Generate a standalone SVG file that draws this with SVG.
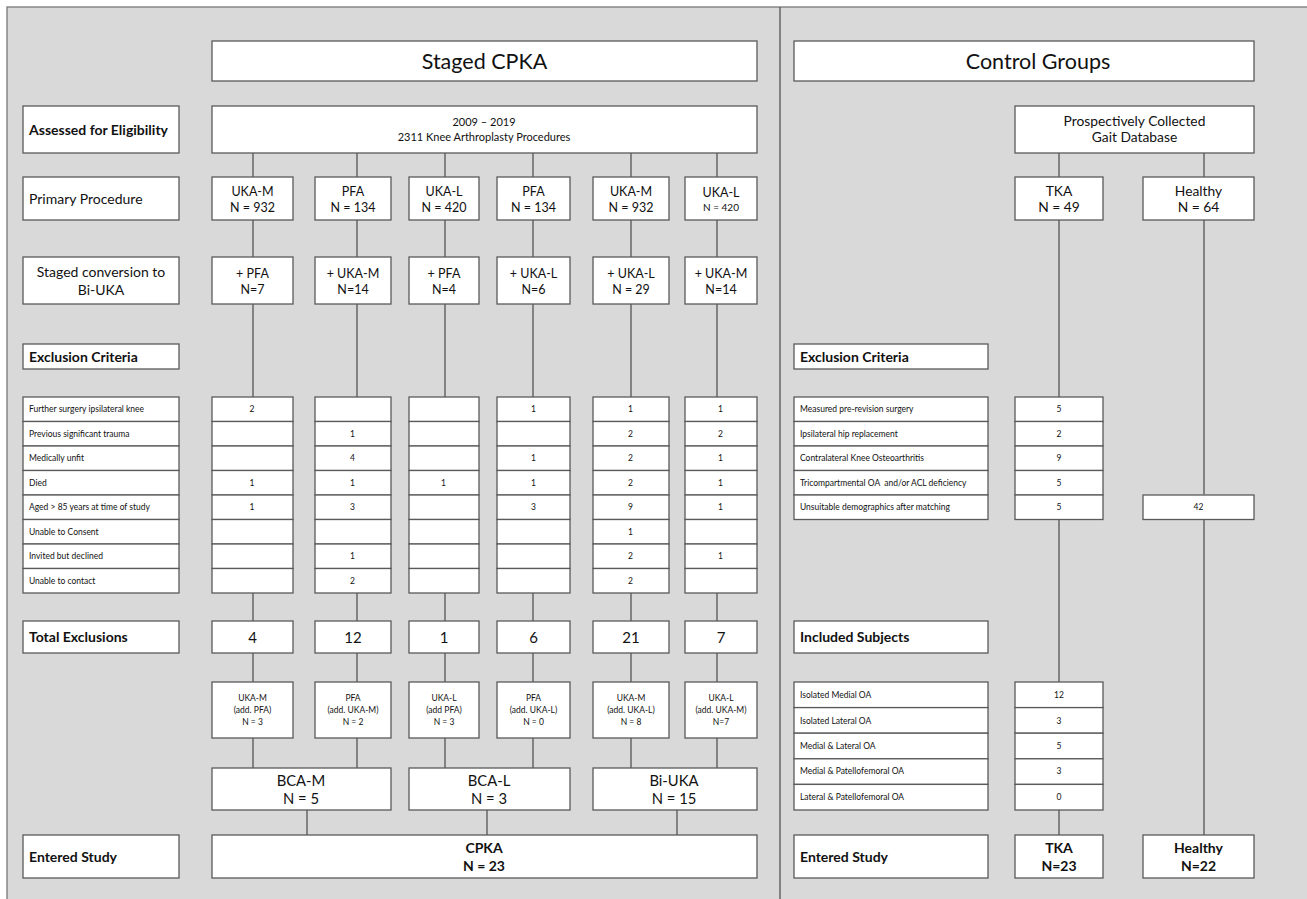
<svg xmlns="http://www.w3.org/2000/svg" width="1307" height="899" viewBox="0 0 1307 899">
<style>
.bx{fill:#fff;stroke:#5a5a5a;stroke-width:1.3}
.ln{stroke:#555;stroke-width:1.3;fill:none}
text{font-family:Lato,"Liberation Sans",sans-serif;fill:#111}
.c{text-anchor:middle}
.b{font-weight:bold}
.h1{font-size:21.5px}
.lb{font-size:14px}
.m{font-size:12.5px}
.g{font-size:13.8px}
.s{font-size:8.5px}
.sm{font-size:10px}
.el{font-size:11px}
.tot{font-size:15px}
.big{font-size:14.8px}
</style>
<rect x="0" y="0" width="1307" height="899" fill="#fff"/>
<rect x="7" y="7" width="1310" height="900" fill="#d9d9d9" stroke="#777" stroke-width="1.3"/>
<line x1="780" y1="7" x2="780" y2="899" stroke="#555" stroke-width="1.3"/>

<g id="connectors">
<path class="ln" d="M253 153V177M357 153V177M445 153V177M533 153V177M631 153V177M717 153V177"/>
<path class="ln" d="M253 220V257M357 220V257M445 220V257M533 220V257M631 220V257M717 220V257"/>
<path class="ln" d="M253 304V397M357 304V397M445 304V397M533 304V397M631 304V397M717 304V397"/>
<path class="ln" d="M253 593V621M357 593V621M445 593V621M533 593V621M631 593V621M717 593V621"/>
<path class="ln" d="M253 653V682M357 653V682M445 653V682M533 653V682M631 653V682M717 653V682"/>
<path class="ln" d="M253 738V768M357 738V768M445 738V768M533 738V768M631 738V768M717 738V768"/>
<path class="ln" d="M307 810V835M487 810V835M677 810V835"/>
<path class="ln" d="M1059 153V177M1204 153V177"/>
<path class="ln" d="M1059 220V397M1059 519V682M1059 810V835"/>
<path class="ln" d="M1204 220V494.5M1204 519V835"/>
</g>

<g id="title-cpka"><rect class="bx" x="212" y="41" width="545" height="40"/><text class="c h1" x="484.5" y="69">Staged CPKA</text></g>
<g id="title-control"><rect class="bx" x="794" y="41" width="460" height="40"/><text class="c h1" x="1038" y="69">Control Groups</text></g>

<g id="lbl-assessed"><rect class="bx" x="23" y="106" width="156" height="47"/><text class="b lb" x="29" y="134.5">Assessed for Eligibility</text></g>
<g id="lbl-primary"><rect class="bx" x="23" y="177" width="156" height="43"/><text class="lb" x="29" y="203.5">Primary Procedure</text></g>
<g id="lbl-staged"><rect class="bx" x="23" y="257" width="156" height="47"/><text class="c lb" x="101" y="277">Staged conversion to</text><text class="c lb" x="101" y="295">Bi-UKA</text></g>
<g id="lbl-excl"><rect class="bx" x="23" y="344" width="156" height="25"/><text class="b lb" x="29" y="361.5">Exclusion Criteria</text></g>
<g id="lbl-total"><rect class="bx" x="23" y="621" width="156" height="32"/><text class="b lb" x="29" y="642">Total Exclusions</text></g>
<g id="lbl-entered"><rect class="bx" x="23" y="835" width="156" height="43"/><text class="b lb" x="29" y="861.5">Entered Study</text></g>

<g id="eligibility"><rect class="bx" x="212" y="106" width="545" height="47"/><text class="c el" x="484" y="126">2009 – 2019</text><text class="c el" x="484" y="140.5">2311 Knee Arthroplasty Procedures</text></g>

<g id="p1"><rect class="bx" x="212" y="177" width="81" height="43"/><text class="c m" x="252.5" y="196">UKA-M</text><text class="c m" x="252.5" y="211.5">N = 932</text></g>
<g id="p2"><rect class="bx" x="315" y="177" width="76" height="43"/><text class="c m" x="353" y="196">PFA</text><text class="c m" x="353" y="211.5">N = 134</text></g>
<g id="p3"><rect class="bx" x="409" y="177" width="70" height="43"/><text class="c m" x="444" y="196">UKA-L</text><text class="c m" x="444" y="211.5">N = 420</text></g>
<g id="p4"><rect class="bx" x="497" y="177" width="73" height="43"/><text class="c m" x="533.5" y="196">PFA</text><text class="c m" x="533.5" y="211.5">N = 134</text></g>
<g id="p5"><rect class="bx" x="593" y="177" width="76" height="43"/><text class="c m" x="631" y="196">UKA-M</text><text class="c m" x="631" y="211.5">N = 932</text></g>
<g id="p6"><rect class="bx" x="685" y="177" width="72" height="43"/><text class="c m" x="721" y="197">UKA-L</text><text class="c sm" x="721" y="210.5">N = 420</text></g>

<g id="s1"><rect class="bx" x="212" y="257" width="81" height="47"/><text class="c m" x="252.5" y="277.5">+ PFA</text><text class="c m" x="252.5" y="293.5">N=7</text></g>
<g id="s2"><rect class="bx" x="315" y="257" width="76" height="47"/><text class="c m" x="353" y="277.5">+ UKA-M</text><text class="c m" x="353" y="293.5">N=14</text></g>
<g id="s3"><rect class="bx" x="409" y="257" width="70" height="47"/><text class="c m" x="444" y="277.5">+ PFA</text><text class="c m" x="444" y="293.5">N=4</text></g>
<g id="s4"><rect class="bx" x="497" y="257" width="73" height="47"/><text class="c m" x="533.5" y="277.5">+ UKA-L</text><text class="c m" x="533.5" y="293.5">N=6</text></g>
<g id="s5"><rect class="bx" x="593" y="257" width="76" height="47"/><text class="c m" x="631" y="277.5">+ UKA-L</text><text class="c m" x="631" y="293.5">N = 29</text></g>
<g id="s6"><rect class="bx" x="685" y="257" width="72" height="47"/><text class="c m" x="721" y="277.5">+ UKA-M</text><text class="c m" x="721" y="293.5">N=14</text></g>

<g id="excl-table-left">
<rect class="bx" x="23" y="397" width="156" height="24.5"/><text class="s" x="29" y="412.3">Further surgery ipsilateral knee</text>
<rect class="bx" x="23" y="421.5" width="156" height="24.5"/><text class="s" x="29" y="436.8">Previous significant trauma</text>
<rect class="bx" x="23" y="446" width="156" height="24.5"/><text class="s" x="29" y="461.3">Medically unfit</text>
<rect class="bx" x="23" y="470.5" width="156" height="24.5"/><text class="s" x="29" y="485.8">Died</text>
<rect class="bx" x="23" y="495" width="156" height="24.5"/><text class="s" x="29" y="510.3">Aged &gt; 85 years at time of study</text>
<rect class="bx" x="23" y="519.5" width="156" height="24.5"/><text class="s" x="29" y="534.8">Unable to Consent</text>
<rect class="bx" x="23" y="544" width="156" height="24.5"/><text class="s" x="29" y="559.3">Invited but declined</text>
<rect class="bx" x="23" y="568.5" width="156" height="24.5"/><text class="s" x="29" y="583.8">Unable to contact</text>
</g>
<g id="excl-col1">
<rect class="bx" x="212" y="397" width="81" height="24.5"/><rect class="bx" x="212" y="421.5" width="81" height="24.5"/><rect class="bx" x="212" y="446" width="81" height="24.5"/><rect class="bx" x="212" y="470.5" width="81" height="24.5"/><rect class="bx" x="212" y="495" width="81" height="24.5"/><rect class="bx" x="212" y="519.5" width="81" height="24.5"/><rect class="bx" x="212" y="544" width="81" height="24.5"/><rect class="bx" x="212" y="568.5" width="81" height="24.5"/>
<text class="c s" x="252" y="412.3">2</text><text class="c s" x="252" y="485.8">1</text><text class="c s" x="252" y="510.3">1</text>
</g>
<g id="excl-col2">
<rect class="bx" x="315" y="397" width="76" height="24.5"/><rect class="bx" x="315" y="421.5" width="76" height="24.5"/><rect class="bx" x="315" y="446" width="76" height="24.5"/><rect class="bx" x="315" y="470.5" width="76" height="24.5"/><rect class="bx" x="315" y="495" width="76" height="24.5"/><rect class="bx" x="315" y="519.5" width="76" height="24.5"/><rect class="bx" x="315" y="544" width="76" height="24.5"/><rect class="bx" x="315" y="568.5" width="76" height="24.5"/>
<text class="c s" x="352.5" y="436.8">1</text><text class="c s" x="352.5" y="461.3">4</text><text class="c s" x="352.5" y="485.8">1</text><text class="c s" x="352.5" y="510.3">3</text><text class="c s" x="352.5" y="559.3">1</text><text class="c s" x="352.5" y="583.8">2</text>
</g>
<g id="excl-col3">
<rect class="bx" x="409" y="397" width="70" height="24.5"/><rect class="bx" x="409" y="421.5" width="70" height="24.5"/><rect class="bx" x="409" y="446" width="70" height="24.5"/><rect class="bx" x="409" y="470.5" width="70" height="24.5"/><rect class="bx" x="409" y="495" width="70" height="24.5"/><rect class="bx" x="409" y="519.5" width="70" height="24.5"/><rect class="bx" x="409" y="544" width="70" height="24.5"/><rect class="bx" x="409" y="568.5" width="70" height="24.5"/>
<text class="c s" x="443.5" y="485.8">1</text>
</g>
<g id="excl-col4">
<rect class="bx" x="497" y="397" width="73" height="24.5"/><rect class="bx" x="497" y="421.5" width="73" height="24.5"/><rect class="bx" x="497" y="446" width="73" height="24.5"/><rect class="bx" x="497" y="470.5" width="73" height="24.5"/><rect class="bx" x="497" y="495" width="73" height="24.5"/><rect class="bx" x="497" y="519.5" width="73" height="24.5"/><rect class="bx" x="497" y="544" width="73" height="24.5"/><rect class="bx" x="497" y="568.5" width="73" height="24.5"/>
<text class="c s" x="533.5" y="412.3">1</text><text class="c s" x="533.5" y="461.3">1</text><text class="c s" x="533.5" y="485.8">1</text><text class="c s" x="533.5" y="510.3">3</text>
</g>
<g id="excl-col5">
<rect class="bx" x="593" y="397" width="76" height="24.5"/><rect class="bx" x="593" y="421.5" width="76" height="24.5"/><rect class="bx" x="593" y="446" width="76" height="24.5"/><rect class="bx" x="593" y="470.5" width="76" height="24.5"/><rect class="bx" x="593" y="495" width="76" height="24.5"/><rect class="bx" x="593" y="519.5" width="76" height="24.5"/><rect class="bx" x="593" y="544" width="76" height="24.5"/><rect class="bx" x="593" y="568.5" width="76" height="24.5"/>
<text class="c s" x="630.5" y="412.3">1</text><text class="c s" x="630.5" y="436.8">2</text><text class="c s" x="630.5" y="461.3">2</text><text class="c s" x="630.5" y="485.8">2</text><text class="c s" x="630.5" y="510.3">9</text><text class="c s" x="630.5" y="534.8">1</text><text class="c s" x="630.5" y="559.3">2</text><text class="c s" x="630.5" y="583.8">2</text>
</g>
<g id="excl-col6">
<rect class="bx" x="685" y="397" width="72" height="24.5"/><rect class="bx" x="685" y="421.5" width="72" height="24.5"/><rect class="bx" x="685" y="446" width="72" height="24.5"/><rect class="bx" x="685" y="470.5" width="72" height="24.5"/><rect class="bx" x="685" y="495" width="72" height="24.5"/><rect class="bx" x="685" y="519.5" width="72" height="24.5"/><rect class="bx" x="685" y="544" width="72" height="24.5"/><rect class="bx" x="685" y="568.5" width="72" height="24.5"/>
<text class="c s" x="720.5" y="412.3">1</text><text class="c s" x="720.5" y="436.8">2</text><text class="c s" x="720.5" y="461.3">1</text><text class="c s" x="720.5" y="485.8">1</text><text class="c s" x="720.5" y="510.3">1</text><text class="c s" x="720.5" y="559.3">1</text>
</g>

<g id="t1"><rect class="bx" x="212" y="621" width="81" height="32"/><text class="c tot" x="252.5" y="642.5">4</text></g>
<g id="t2"><rect class="bx" x="315" y="621" width="76" height="32"/><text class="c tot" x="353" y="642.5">12</text></g>
<g id="t3"><rect class="bx" x="409" y="621" width="70" height="32"/><text class="c tot" x="444" y="642.5">1</text></g>
<g id="t4"><rect class="bx" x="497" y="621" width="73" height="32"/><text class="c tot" x="533.5" y="642.5">6</text></g>
<g id="t5"><rect class="bx" x="593" y="621" width="76" height="32"/><text class="c tot" x="631" y="642.5">21</text></g>
<g id="t6"><rect class="bx" x="685" y="621" width="72" height="32"/><text class="c tot" x="721" y="642.5">7</text></g>

<g id="g1"><rect class="bx" x="212" y="682" width="81" height="56"/><text class="c s" x="252.5" y="701">UKA-M</text><text class="c s" x="252.5" y="713">(add. PFA)</text><text class="c s" x="252.5" y="725">N = 3</text></g>
<g id="g2"><rect class="bx" x="315" y="682" width="76" height="56"/><text class="c s" x="353" y="701">PFA</text><text class="c s" x="353" y="713">(add. UKA-M)</text><text class="c s" x="353" y="725">N = 2</text></g>
<g id="g3"><rect class="bx" x="409" y="682" width="70" height="56"/><text class="c s" x="444" y="701">UKA-L</text><text class="c s" x="444" y="713">(add PFA)</text><text class="c s" x="444" y="725">N = 3</text></g>
<g id="g4"><rect class="bx" x="497" y="682" width="73" height="56"/><text class="c s" x="533.5" y="701">PFA</text><text class="c s" x="533.5" y="713">(add. UKA-L)</text><text class="c s" x="533.5" y="725">N = 0</text></g>
<g id="g5"><rect class="bx" x="593" y="682" width="76" height="56"/><text class="c s" x="631" y="701">UKA-M</text><text class="c s" x="631" y="713">(add. UKA-L)</text><text class="c s" x="631" y="725">N = 8</text></g>
<g id="g6"><rect class="bx" x="685" y="682" width="72" height="56"/><text class="c s" x="721" y="701">UKA-L</text><text class="c s" x="721" y="713">(add. UKA-M)</text><text class="c s" x="721" y="725">N=7</text></g>

<g id="bca-m"><rect class="bx" x="212" y="768" width="179" height="42"/><text class="c big" x="301" y="785.5">BCA-M</text><text class="c big" x="301" y="803.5">N = 5</text></g>
<g id="bca-l"><rect class="bx" x="409" y="768" width="161" height="42"/><text class="c big" x="489" y="785.5">BCA-L</text><text class="c big" x="489" y="803.5">N = 3</text></g>
<g id="bi-uka"><rect class="bx" x="593" y="768" width="164" height="42"/><text class="c big" x="674" y="785.5">Bi-UKA</text><text class="c big" x="674" y="803.5">N = 15</text></g>

<g id="cpka"><rect class="bx" x="212" y="835" width="545" height="43"/><text class="c b lb" x="484" y="853">CPKA</text><text class="c b lb" x="484" y="871">N = 23</text></g>

<g id="gait-db"><rect class="bx" x="1015" y="106" width="239" height="47"/><text class="c g" x="1134.5" y="125.5">Prospectively Collected</text><text class="c g" x="1134.5" y="142">Gait Database</text></g>
<g id="tka"><rect class="bx" x="1015" y="177" width="88" height="43"/><text class="c g" x="1059" y="195.5">TKA</text><text class="c g" x="1059" y="211.5">N = 49</text></g>
<g id="healthy"><rect class="bx" x="1143" y="177" width="111" height="43"/><text class="c g" x="1198.5" y="195.5">Healthy</text><text class="c g" x="1198.5" y="211.5">N = 64</text></g>

<g id="lbl-excl-r"><rect class="bx" x="794" y="344" width="194" height="25"/><text class="b lb" x="800" y="361.5">Exclusion Criteria</text></g>
<g id="excl-table-right">
<rect class="bx" x="794" y="397" width="194" height="24.5"/><text class="s" x="800" y="412.3">Measured pre-revision surgery</text>
<rect class="bx" x="794" y="421.5" width="194" height="24.5"/><text class="s" x="800" y="436.8">Ipsilateral hip replacement</text>
<rect class="bx" x="794" y="446" width="194" height="24.5"/><text class="s" x="800" y="461.3">Contralateral Knee Osteoarthritis</text>
<rect class="bx" x="794" y="470.5" width="194" height="24.5"/><text class="s" x="800" y="485.8" xml:space="preserve">Tricompartmental OA  and/or ACL deficiency</text>
<rect class="bx" x="794" y="495" width="194" height="24.5"/><text class="s" x="800" y="510.3">Unsuitable demographics after matching</text>
</g>
<g id="excl-tka">
<rect class="bx" x="1015" y="397" width="88" height="24.5"/><rect class="bx" x="1015" y="421.5" width="88" height="24.5"/><rect class="bx" x="1015" y="446" width="88" height="24.5"/><rect class="bx" x="1015" y="470.5" width="88" height="24.5"/><rect class="bx" x="1015" y="495" width="88" height="24.5"/>
<text class="c s" x="1059" y="412.3">5</text><text class="c s" x="1059" y="436.8">2</text><text class="c s" x="1059" y="461.3">9</text><text class="c s" x="1059" y="485.8">5</text><text class="c s" x="1059" y="510.3">5</text>
</g>
<g id="excl-healthy"><rect class="bx" x="1143" y="495" width="111" height="24.5"/><text class="c s" x="1198.5" y="510.3">42</text></g>

<g id="lbl-included"><rect class="bx" x="794" y="621" width="194" height="32"/><text class="b lb" x="800" y="642">Included Subjects</text></g>
<g id="incl-table">
<rect class="bx" x="794" y="682" width="194" height="25.6"/><text class="s" x="800" y="698">Isolated Medial OA</text>
<rect class="bx" x="794" y="707.6" width="194" height="25.6"/><text class="s" x="800" y="723.6">Isolated Lateral OA</text>
<rect class="bx" x="794" y="733.2" width="194" height="25.6"/><text class="s" x="800" y="749">Medial &amp; Lateral OA</text>
<rect class="bx" x="794" y="758.8" width="194" height="25.6"/><text class="s" x="800" y="774.4">Medial &amp; Patellofemoral OA</text>
<rect class="bx" x="794" y="784.4" width="194" height="25.6"/><text class="s" x="800" y="800.2">Lateral &amp; Patellofemoral OA</text>
</g>
<g id="incl-tka">
<rect class="bx" x="1015" y="682" width="88" height="25.6"/><rect class="bx" x="1015" y="707.6" width="88" height="25.6"/><rect class="bx" x="1015" y="733.2" width="88" height="25.6"/><rect class="bx" x="1015" y="758.8" width="88" height="25.6"/><rect class="bx" x="1015" y="784.4" width="88" height="25.6"/>
<text class="c s" x="1059" y="698">12</text><text class="c s" x="1059" y="723.6">3</text><text class="c s" x="1059" y="749">5</text><text class="c s" x="1059" y="774.4">3</text><text class="c s" x="1059" y="800.2">0</text>
</g>

<g id="lbl-entered-r"><rect class="bx" x="794" y="835" width="194" height="43"/><text class="b lb" x="800" y="861.5">Entered Study</text></g>
<g id="tka-final"><rect class="bx" x="1015" y="835" width="88" height="43"/><text class="c b lb" x="1059" y="853">TKA</text><text class="c b lb" x="1059" y="871">N=23</text></g>
<g id="healthy-final"><rect class="bx" x="1143" y="835" width="111" height="43"/><text class="c b lb" x="1198.5" y="853">Healthy</text><text class="c b lb" x="1198.5" y="871">N=22</text></g>
</svg>
